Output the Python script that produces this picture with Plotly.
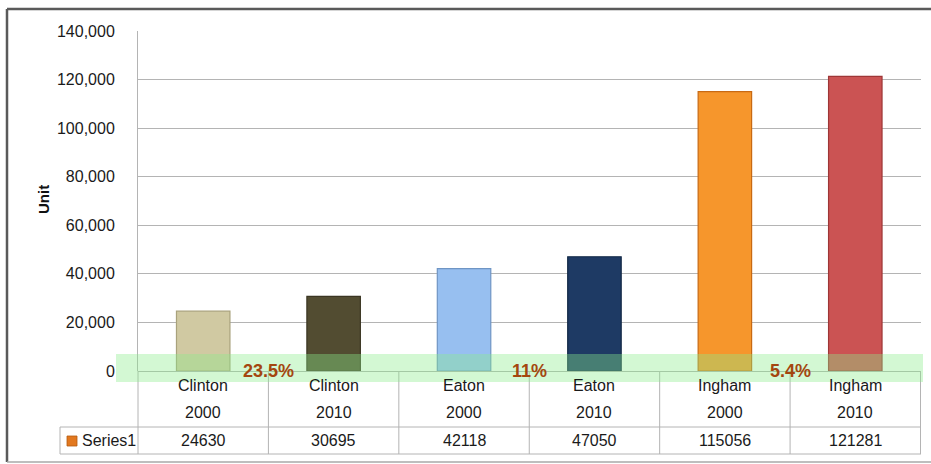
import plotly.graph_objects as go

counties = ["Clinton", "Clinton", "Eaton", "Eaton", "Ingham", "Ingham"]
years = ["2000", "2010", "2000", "2010", "2000", "2010"]
values = [24630, 30695, 42118, 47050, 115056, 121281]
bar_colors = ["#d0c9a2", "#524c31", "#97bff0", "#1e3a64", "#f6962c", "#cb5353"]
line_colors = ["#a9a27c", "#3a3522", "#6f95c4", "#122845", "#c86a14", "#9e3636"]
change_labels = ["23.5%", "11%", "5.4%"]
change_pos = [0.5, 2.5, 4.5]
series_name = "Series1"

W, H = 931, 464
L, R, T, B = 138, 921, 31, 371
FONT = "Liberation Sans"


def px(x):
    return (x - L) / (R - L)


def py(y):
    return (B - y) / (B - T)


cats = [f"{c} {y}" for c, y in zip(counties, years)]

fig = go.Figure()
fig.add_trace(go.Bar(
    x=cats, y=values,
    marker=dict(color=bar_colors, line=dict(color=line_colors, width=1.2)),
    showlegend=False, hoverinfo="y",
))

shapes = []
annotations = []
grid = "#b4b4b4"

# outer border
shapes.append(dict(type="line", xref="paper", yref="paper", x0=px(7), x1=px(931), y0=py(9), y1=py(9),
                   line=dict(color="#5a5a5a", width=2.5)))
shapes.append(dict(type="line", xref="paper", yref="paper", x0=px(7), x1=px(7), y0=py(9), y1=py(462),
                   line=dict(color="#5a5a5a", width=2.5)))
shapes.append(dict(type="line", xref="paper", yref="paper", x0=px(7), x1=px(931), y0=py(462), y1=py(462),
                   line=dict(color="#a8a8a8", width=1.5)))

# table lines
for yy in [427, 454]:
    shapes.append(dict(type="line", xref="paper", yref="paper", x0=px(60), x1=1, y0=py(yy), y1=py(yy),
                       line=dict(color=grid, width=1)))
shapes.append(dict(type="line", xref="paper", yref="paper", x0=px(60), x1=px(60), y0=py(427), y1=py(454),
                   line=dict(color=grid, width=1)))
shapes.append(dict(type="line", xref="paper", yref="paper", x0=0, x1=0, y0=py(371), y1=py(454),
                   line=dict(color=grid, width=1)))
for i in range(len(cats)):
    shapes.append(dict(type="line", xref="x", yref="paper", x0=i + 0.5, x1=i + 0.5, y0=py(371), y1=py(454),
                       line=dict(color=grid, width=1)))

# legend key in table
shapes.append(dict(type="rect", xref="paper", yref="paper", x0=px(67), x1=px(77), y0=py(436), y1=py(446),
                   fillcolor="#e2781f", line=dict(color="#b55a10", width=0.8)))

# green highlight band
shapes.append(dict(type="rect", xref="paper", yref="paper", x0=px(116), x1=px(923), y0=py(354), y1=py(382),
                   fillcolor="rgba(140,236,140,0.38)", line=dict(width=0), layer="above"))

txt = dict(family=FONT, size=16, color="#1a1a1a")
for i, (c, yv, v) in enumerate(zip(counties, years, values)):
    annotations.append(dict(x=cats[i], xref="x", y=py(385), yref="paper", yanchor="middle", xanchor="center",
                            text=c, showarrow=False, font=txt))
    annotations.append(dict(x=cats[i], xref="x", y=py(412), yref="paper", yanchor="middle", xanchor="center",
                            text=yv, showarrow=False, font=txt))
    annotations.append(dict(x=cats[i], xref="x", y=py(440), yref="paper", yanchor="middle", xanchor="center",
                            text=str(v), showarrow=False, font=txt))

annotations.append(dict(x=px(80), xref="paper", xanchor="left", y=py(440), yref="paper", yanchor="middle",
                        text=series_name, showarrow=False, font=txt))

for lab, pos in zip(change_labels, change_pos):
    annotations.append(dict(x=pos, xref="x", y=py(371), yref="paper", yanchor="middle", xanchor="center",
                            text=f"<b>{lab}</b>", showarrow=False,
                            font=dict(family=FONT, size=18, color="#a4460f")))

annotations.append(dict(x=px(43), xref="paper", xanchor="center", y=py(200), yref="paper", yanchor="middle",
                        text="<b>Unit</b>", textangle=-90,
                        showarrow=False, font=dict(family=FONT, size=15, color="#111")))

fig.update_layout(
    width=W, height=H,
    margin=dict(l=L, r=W - R, t=T, b=H - B, pad=0),
    paper_bgcolor="white", plot_bgcolor="white",
    bargap=0.59,
    shapes=shapes, annotations=annotations,
    xaxis=dict(showticklabels=False, showgrid=False, zeroline=False, showline=False, ticks=""),
    yaxis=dict(range=[0, 140000], dtick=20000, tickformat=",d", showgrid=True, gridcolor=grid, gridwidth=1,
               zeroline=True, zerolinecolor=grid, zerolinewidth=1, showline=True, linecolor=grid, linewidth=1,
               ticks="", ticklabelstandoff=19, tickfont=dict(family=FONT, size=16, color="#1a1a1a")),
    font=dict(family=FONT),
)

fig.write_html("out.html", config={"displayModeBar": False},
               post_script="document.body.style.margin='0';document.body.style.overflow='hidden';")
